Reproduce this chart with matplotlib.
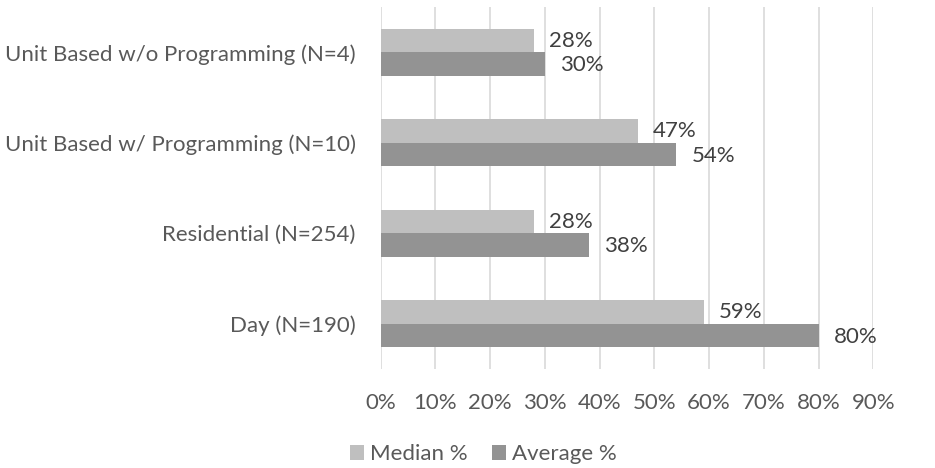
import numpy as np
import matplotlib.pyplot as plt
from matplotlib.ticker import PercentFormatter

# ============================================
# DATA
# ============================================

categories = [
    "Day (N=190)",
    "Residential (N=254)",
    "Unit Based w/ Programming (N=10)",
    "Unit Based w/o Programming (N=4)",
]
median_pct = [59, 28, 47, 28]
average_pct = [80, 38, 54, 30]
x_ticks = list(range(0, 100, 10))

median_color = "#bfbfbf"
average_color = "#939393"

plt.rcParams["font.family"] = ["Lato", "DejaVu Sans"]
fs = 16

# ============================================
# FIGURE
# ============================================

fig = plt.figure(figsize=(9.35, 4.68), dpi=100)
ax = fig.add_axes([0.4072, 0.2115, 0.5268, 0.7735])

y = np.arange(len(categories))
h = 0.26

ax.barh(y + h / 2, median_pct, h, color=median_color, label="Median %", zorder=3)
ax.barh(y - h / 2, average_pct, h, color=average_color, label="Average %", zorder=3)

for i in range(len(categories)):
    ax.annotate(f"{median_pct[i]}%", (median_pct[i], y[i] + h / 2),
                xytext=(11, 0), textcoords="offset points",
                va="center", ha="left", fontsize=fs, color="#404040")
    ax.annotate(f"{average_pct[i]}%", (average_pct[i], y[i] - h / 2),
                xytext=(11, -1), textcoords="offset points",
                va="center", ha="left", fontsize=fs, color="#404040")

ax.set_xlim(0, 90)
ax.set_ylim(-0.5, len(categories) - 0.5)
ax.set_xticks(x_ticks)
ax.xaxis.set_major_formatter(PercentFormatter(decimals=0))
ax.set_yticks(y)
ax.set_yticklabels(categories)

ax.grid(axis="x", color="#d9d9d9", linewidth=1.2, zorder=0)
for s in ax.spines.values():
    s.set_visible(False)

ax.tick_params(axis="both", length=0, labelsize=fs, colors="#595959")
ax.tick_params(axis="x", pad=17)
ax.tick_params(axis="y", pad=18)

fig.legend(loc="center", bbox_to_anchor=(483 / 935, 1 - 454 / 468),
           ncol=2, frameon=False, fontsize=fs, labelcolor="#595959",
           handlelength=0.65, handleheight=0.65, handletextpad=0.25,
           columnspacing=1.1)

plt.savefig("out.png", dpi=100)
plt.close()
